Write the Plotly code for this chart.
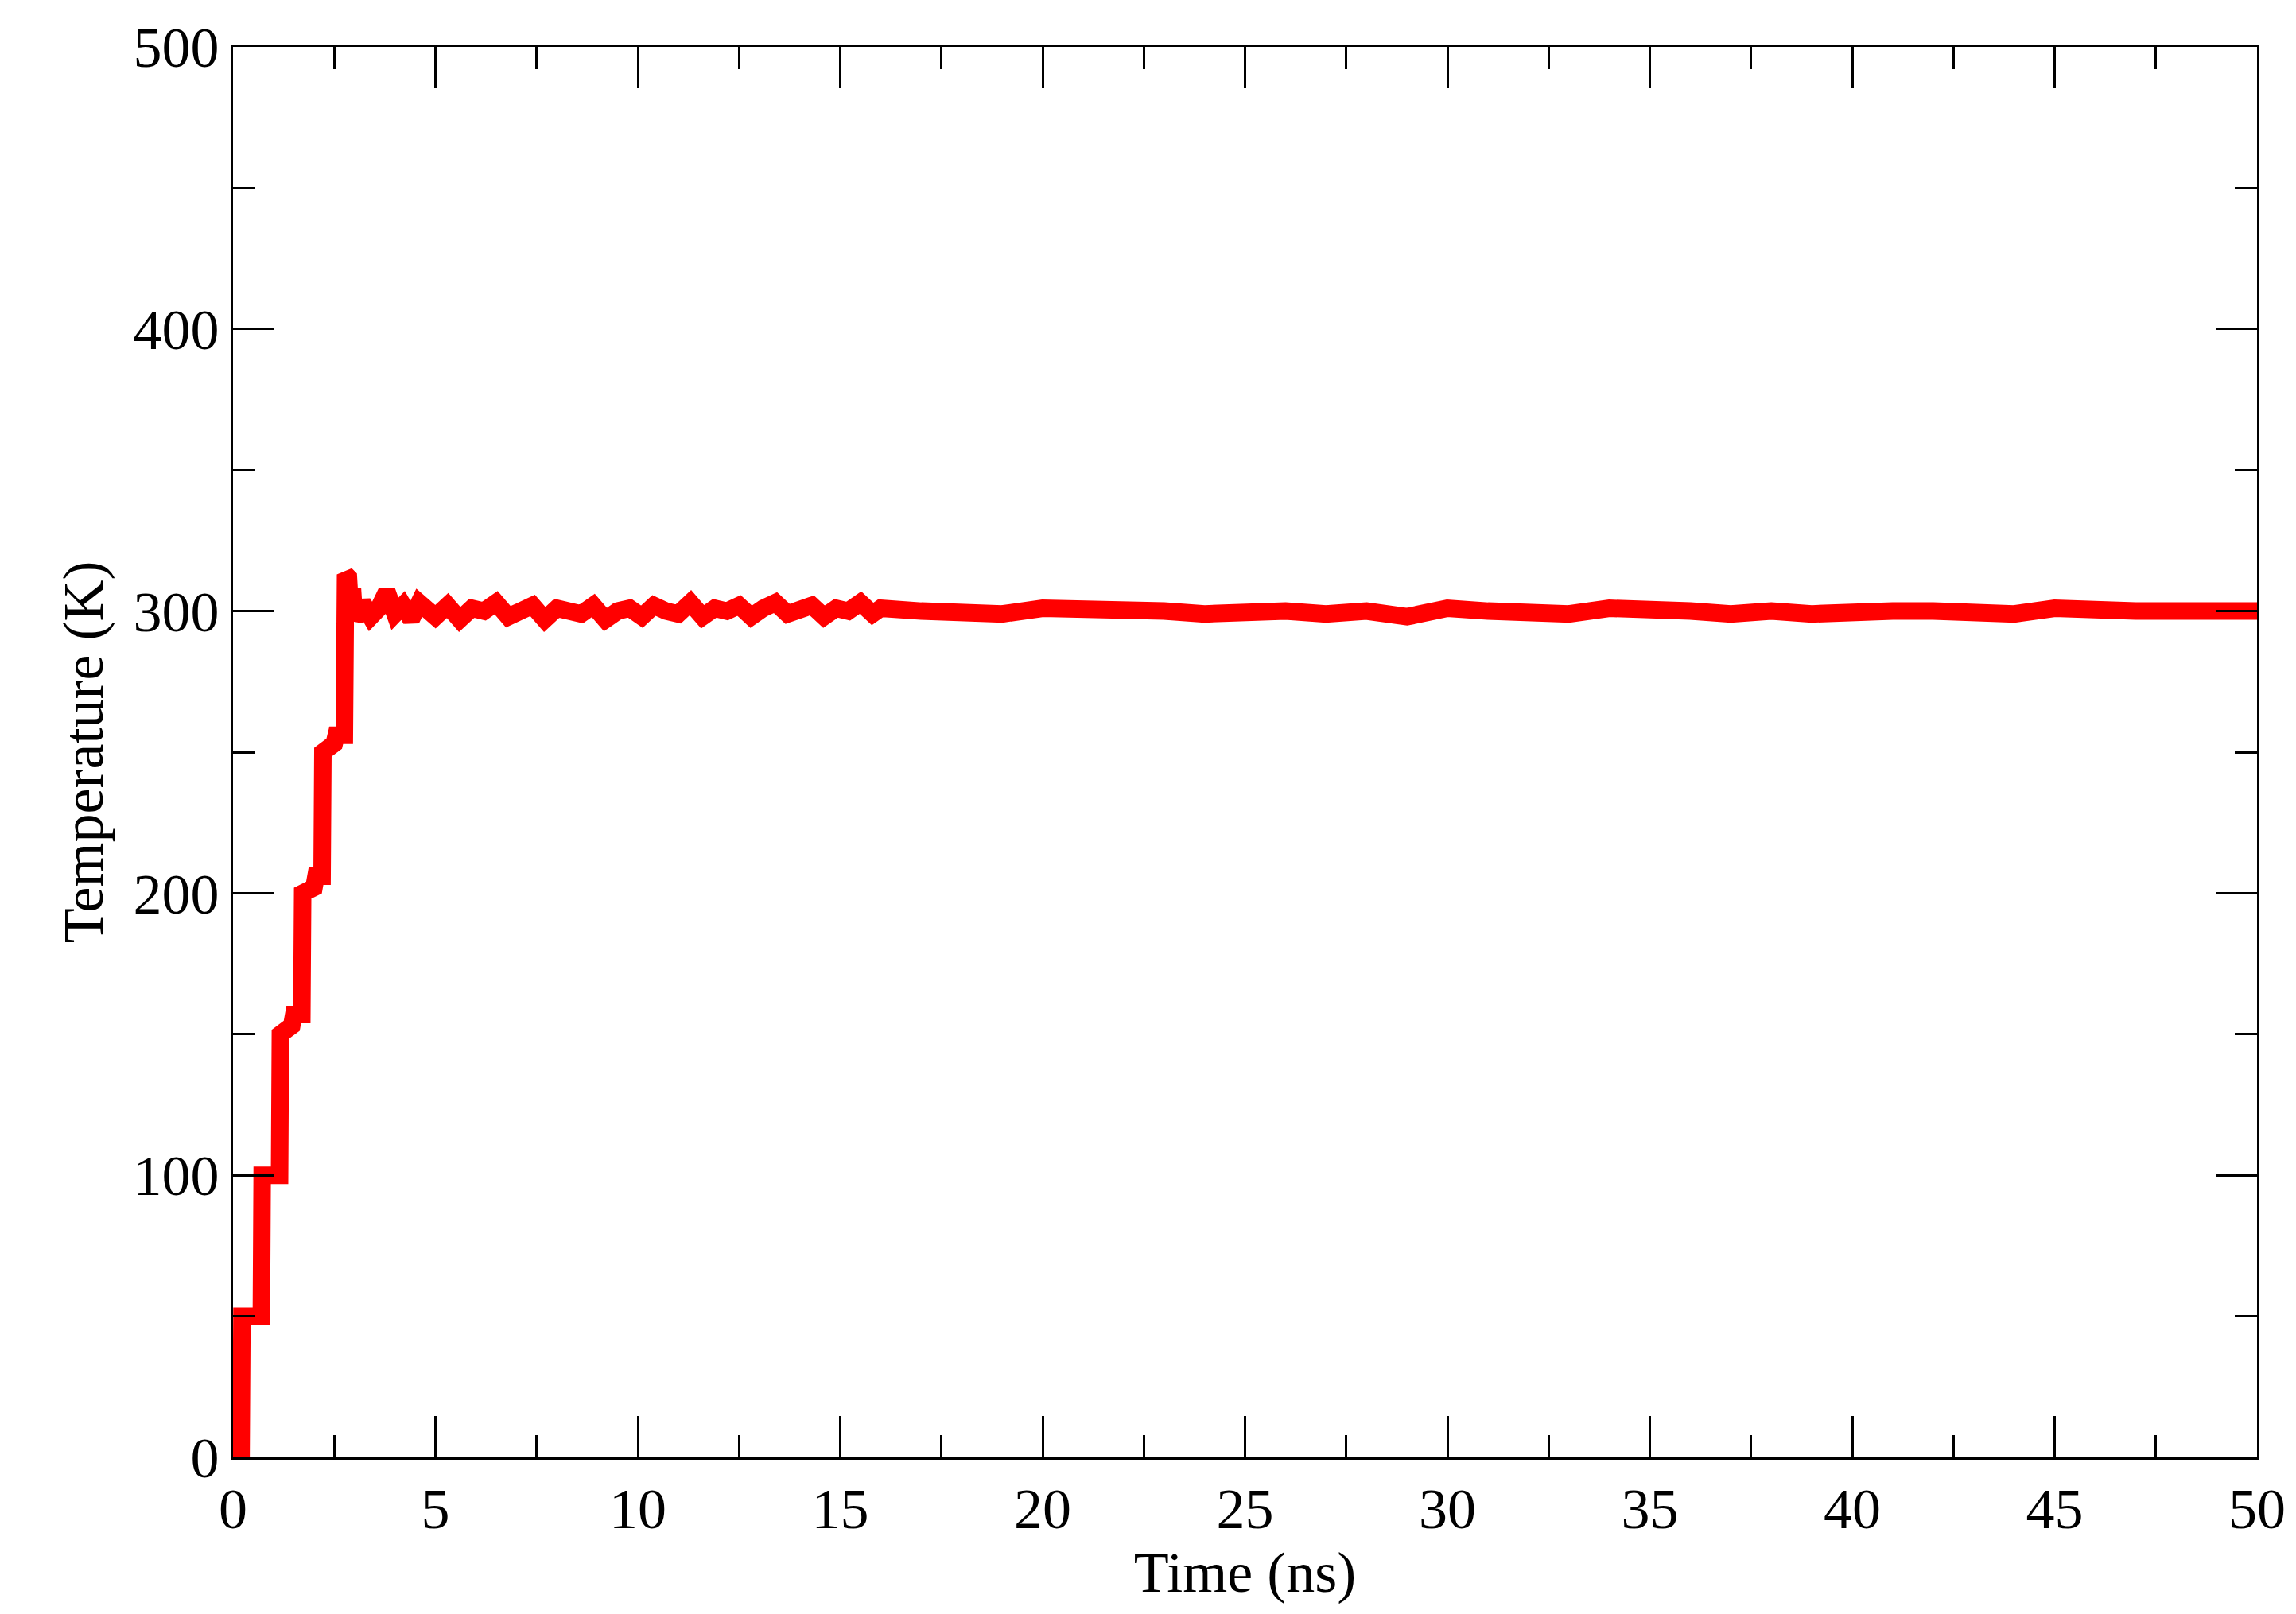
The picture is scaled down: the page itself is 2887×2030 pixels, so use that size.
import plotly.graph_objects as go

# Step heating phase (time ns, temperature K)
t_heat = [0.0, 0.2, 0.22, 0.7, 0.72, 1.15, 1.17, 1.45, 1.5, 1.7, 1.72, 2.0, 2.05, 2.2, 2.22, 2.5, 2.55, 2.75, 2.78, 2.85, 2.9, 2.95]
T_heat = [3, 3, 50, 50, 100, 100, 150, 153, 157, 157, 200, 202, 206, 206, 250, 253, 256, 256, 313, 312, 300, 308]

# Noisy equilibration 3-16 ns
t_noisy = [3.0, 3.2, 3.4, 3.6, 3.8, 4.0, 4.2, 4.4, 4.6, 4.8, 5.0, 5.3, 5.6, 5.9, 6.2, 6.5, 6.8, 7.1, 7.4, 7.7, 8.0,
           8.3, 8.6, 8.9, 9.2, 9.5, 9.8, 10.1, 10.4, 10.7, 11.0, 11.3, 11.6, 11.9, 12.2, 12.5, 12.8, 13.1,
           13.4, 13.7, 14.0, 14.3, 14.6, 14.9, 15.2, 15.5, 15.8, 16.0]
T_noisy = [297, 303, 298, 301, 307, 299, 302, 297, 303, 300, 298, 302, 297, 301, 300, 303, 298, 300, 302, 297,
           301, 300, 299, 302, 297, 300, 301, 298, 302, 300, 299, 303, 298, 301, 300, 302, 298, 301, 303,
           299, 300, 302, 298, 301, 300, 303, 299, 301]

# Smooth equilibrium 16-50 ns
t_eq = [17, 18, 19, 20, 21, 22, 23, 24, 25, 26, 27, 28, 29, 30, 31, 32, 33, 34, 35, 36, 37, 38, 39, 40,
        41, 42, 43, 44, 45, 46, 47, 48, 49, 50]
T_eq = [300, 300, 299, 301, 301, 300, 300, 299, 300, 300, 299, 300, 298, 301, 300, 300, 299, 301, 301, 300,
        299, 300, 299, 300, 300, 300, 300, 299, 301, 300, 300, 300, 300, 300]

t_all = t_heat + t_noisy + t_eq
T_all = T_heat + T_noisy + T_eq

fig = go.Figure()
fig.add_trace(go.Scatter(x=t_all, y=T_all, mode="lines", line=dict(color="#ff0000", width=22, shape="linear"),
                         showlegend=False))

font = dict(family="Liberation Serif", size=72, color="black")
axcommon = dict(showgrid=False, zeroline=False, showline=True, linecolor="black", linewidth=3,
                mirror="ticks", ticks="inside", ticklen=52, tickwidth=3, tickcolor="black",
                tickfont=font)
fig.update_xaxes(range=[0, 50], tickvals=list(range(0, 51, 5)), title=dict(text="Time (ns)", font=font, standoff=5),
                 minor=dict(ticks="inside", ticklen=28, tickwidth=3, tickcolor="black", dtick=2.5), **axcommon)
fig.update_yaxes(range=[0, 500], tickvals=list(range(0, 501, 100)), title=dict(text="Temperature (K)", font=font, standoff=15),
                 minor=dict(ticks="inside", ticklen=28, tickwidth=3, tickcolor="black", dtick=50), **axcommon)
fig.update_layout(width=2887, height=2030, plot_bgcolor="white", paper_bgcolor="white",
                  margin=dict(l=285, r=57, t=45, b=205))
fig.write_html("out.html")
